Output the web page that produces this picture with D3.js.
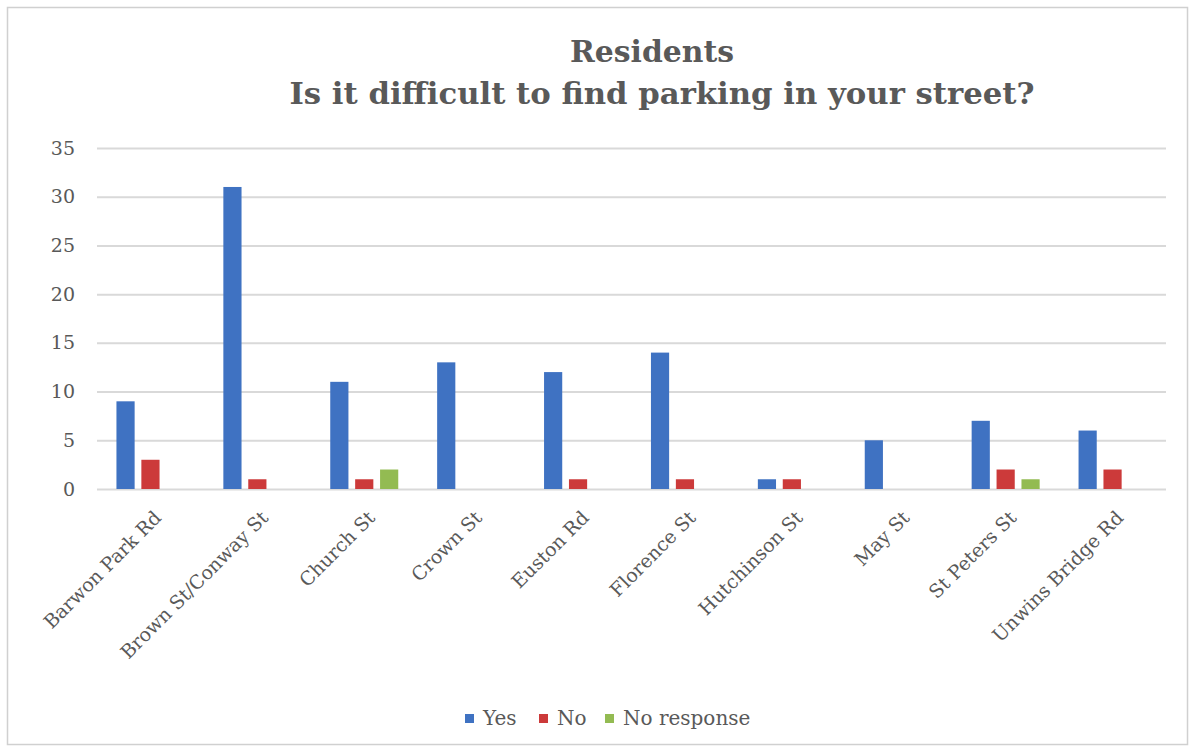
<!DOCTYPE html>
<html>
<head>
<meta charset="utf-8">
<script src="https://cdn.jsdelivr.net/npm/d3@7"></script>
<style>
  html, body { margin: 0; padding: 0; background: #ffffff; }
  svg { display: block; }
</style>
</head>
<body>
<svg id="chart" width="1192" height="751"></svg>
<script>
// Survey responses per street
const streets = ["Barwon Park Rd", "Brown St/Conway St", "Church St", "Crown St", "Euston Rd",
                 "Florence St", "Hutchinson St", "May St", "St Peters St", "Unwins Bridge Rd"];
const yesValues = [9, 31, 11, 13, 12, 14, 1, 5, 7, 6];
const noValues = [3, 1, 1, 0, 1, 1, 1, 0, 2, 2];
const noResponseValues = [0, 0, 2, 0, 0, 0, 0, 0, 1, 0];
const seriesNames = ["Yes", "No", "No response"];
const seriesColors = ["#3f72c2", "#cc3a3a", "#93bb52"];
const yTicks = [0, 5, 10, 15, 20, 25, 30, 35];
const titleLines = ["Residents", "Is it difficult to find parking in your street?"];

const seriesValues = [yesValues, noValues, noResponseValues];
const rows = streets.map((s, i) => ({
  street: s,
  values: seriesNames.map((name, k) => ({ name, value: seriesValues[k][i] }))
}));

const svg = d3.select("#chart");
const font = "'DejaVu Serif', 'Liberation Serif', serif";
const textColor = "#595959";

// Chart frame
svg.append("rect")
  .attr("x", 7.5).attr("y", 7.5).attr("width", 1180).attr("height", 737)
  .attr("fill", "#ffffff").attr("stroke", "#d0d0d0").attr("stroke-width", 1.5);

const plot = { left: 97, right: 1166, top: 148, bottom: 489 };

const x0 = d3.scaleBand().domain(streets).range([plot.left, plot.right]).paddingInner(0).paddingOuter(0);
const x1 = d3.scaleBand().domain(seriesNames).range([0, 68]).paddingInner(0.27);
const y = d3.scaleLinear().domain([0, 35]).range([plot.bottom, plot.top]);
const color = d3.scaleOrdinal().domain(seriesNames).range(seriesColors);

// Horizontal gridlines and value labels
const yAxis = d3.axisLeft(y).tickValues(yTicks).tickSize(-(plot.right - plot.left)).tickPadding(22);
const gy = svg.append("g").attr("transform", `translate(${plot.left},0)`).call(yAxis);
gy.select(".domain").remove();
gy.selectAll(".tick line").attr("stroke", "#d9d9d9").attr("stroke-width", 2);
gy.selectAll(".tick text")
  .attr("font-family", font).attr("font-size", 19).attr("fill", textColor);

// Bars
const groupOffset = (x0.bandwidth() - 68) / 2;
const groups = svg.append("g").selectAll("g").data(rows).join("g")
  .attr("transform", d => `translate(${x0(d.street) + groupOffset},0)`);
groups.selectAll("rect").data(d => d.values.filter(v => v.value > 0)).join("rect")
  .attr("x", d => x1(d.name))
  .attr("y", d => y(d.value))
  .attr("width", x1.bandwidth())
  .attr("height", d => y(0) - y(d.value))
  .attr("fill", d => color(d.name));

// Category axis labels, rotated
const xAxis = d3.axisBottom(x0).tickSize(0).tickPadding(0);
const gx = svg.append("g").attr("transform", `translate(0,${plot.bottom})`).call(xAxis);
gx.select(".domain").remove();
gx.selectAll(".tick text")
  .attr("font-family", font).attr("font-size", 19).attr("fill", textColor)
  .attr("text-anchor", "end")
  .attr("dy", 0)
  .attr("transform", "translate(12,30) rotate(-45)");

// Title (two centred lines, condensed)
const titleWidths = [164, 745];
const title = svg.append("text")
  .attr("text-anchor", "middle")
  .attr("font-family", font).attr("font-weight", "bold").attr("font-size", 30)
  .attr("fill", textColor);
titleLines.forEach((line, i) => {
  title.append("tspan")
    .attr("x", 652 + i * 10).attr("y", 62 + i * 42)
    .attr("textLength", titleWidths[i])
    .attr("lengthAdjust", "spacingAndGlyphs")
    .text(line);
});

// Legend
const legendItems = [
  { name: "Yes", x: 465 },
  { name: "No", x: 539 },
  { name: "No response", x: 605 }
];
const legend = svg.append("g").selectAll("g").data(legendItems).join("g")
  .attr("transform", d => `translate(${d.x},718)`);
legend.append("rect").attr("x", 0).attr("y", -4).attr("width", 9).attr("height", 9)
  .attr("fill", d => color(d.name));
legend.append("text").attr("x", 18).attr("y", 7)
  .attr("font-family", font).attr("font-size", 20).attr("fill", textColor)
  .text(d => d.name);
</script>
</body>
</html>
